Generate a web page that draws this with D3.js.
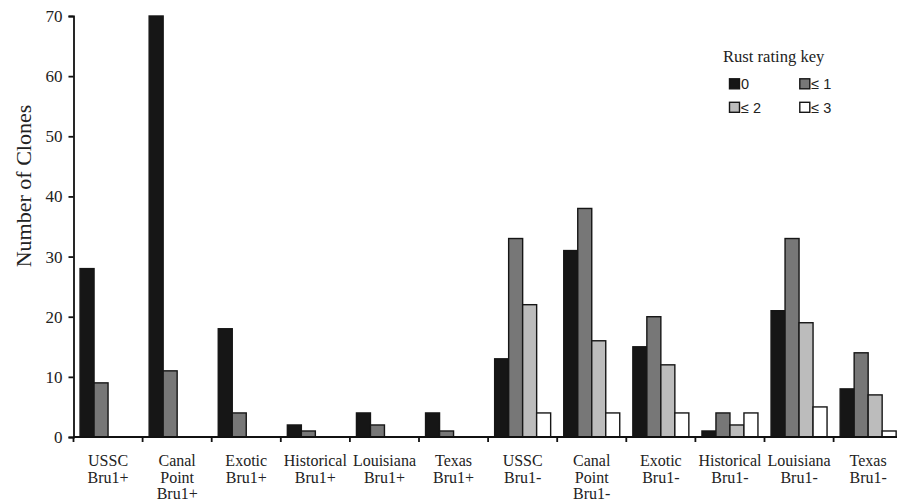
<!DOCTYPE html>
<html><head><meta charset="utf-8">
<script src="https://cdn.jsdelivr.net/npm/d3@7/dist/d3.min.js"></script>
<style>body{margin:0;background:#fff}svg{display:block}</style>
</head><body>
<svg id="c" width="897" height="502"></svg>
<script>
const categories = ["USSC Bru1+","Canal Point Bru1+","Exotic Bru1+","Historical Bru1+","Louisiana Bru1+","Texas Bru1+",
  "USSC Bru1-","Canal Point Bru1-","Exotic Bru1-","Historical Bru1-","Louisiana Bru1-","Texas Bru1-"];
const categoryLines = [["USSC","Bru1+"],["Canal","Point","Bru1+"],["Exotic","Bru1+"],["Historical","Bru1+"],["Louisiana","Bru1+"],["Texas","Bru1+"],
  ["USSC","Bru1-"],["Canal","Point","Bru1-"],["Exotic","Bru1-"],["Historical","Bru1-"],["Louisiana","Bru1-"],["Texas","Bru1-"]];
const seriesKeys = ["0","≤ 1","≤ 2","≤ 3"];
const rating0  = [28,70,18,2,4,4,13,31,15,1,21,8];
const rating1  = [9,11,4,1,2,1,33,38,20,4,33,14];
const rating2  = [0,0,0,0,0,0,22,16,12,2,19,7];
const rating3  = [0,0,0,0,0,0,4,4,4,4,5,1];
const yTicks = [0,10,20,30,40,50,60,70];
const seriesValues = [rating0, rating1, rating2, rating3];
const colors = ["#161616","#777777","#bcbcbc","#ffffff"];

const svg = d3.select("#c");
const x0 = 73.5, yBase = 437, yTop = 16, step = 69.1;
const x = d3.scaleBand().domain(categories).range([x0, x0 + step*categories.length]).paddingInner(0).paddingOuter(0);
const xs = d3.scaleBand().domain(seriesKeys).range([0, x.bandwidth()]).paddingInner(0).paddingOuter(0.468);
const y = d3.scaleLinear().domain([0,70]).range([yBase, yTop]);

// bars
const data = [];
categories.forEach((c,i)=>seriesKeys.forEach((k,j)=>data.push({c,k,j,v:seriesValues[j][i]})));
svg.append("g").selectAll("rect").data(data.filter(d=>d.v>0)).join("rect")
  .attr("x", d=>x(d.c)+xs(d.k))
  .attr("y", d=>y(d.v))
  .attr("width", xs.bandwidth())
  .attr("height", d=>yBase - y(d.v))
  .attr("fill", d=>colors[d.j])
  .attr("stroke", "#161616")
  .attr("stroke-width", 1.4);

// y axis
const yAxis = d3.axisLeft(y).tickValues(yTicks).tickSize(5).tickPadding(6).tickFormat(d3.format("d"));
const gy = svg.append("g").attr("transform", `translate(${x0},0)`).call(yAxis);
gy.select(".domain").attr("stroke","#111").attr("stroke-width",1.8);
gy.selectAll(".tick line").attr("stroke","#111").attr("stroke-width",1.8);
gy.selectAll(".tick text").attr("font-family","Liberation Serif, serif").attr("font-size",17).attr("fill","#222");

// x axis
const gx = svg.append("g").attr("transform", `translate(0,${yBase})`);
gx.append("line").attr("x1", x0).attr("x2", 897).attr("y1",0).attr("y2",0).attr("stroke","#111").attr("stroke-width",1.8);
categories.forEach((c,i)=>{
  gx.append("line").attr("x1", x(c)).attr("x2", x(c)).attr("y1",0).attr("y2",5).attr("stroke","#111").attr("stroke-width",1.8);
  const t = gx.append("text").attr("text-anchor","middle").attr("font-family","Liberation Serif, serif")
    .attr("font-size",16).attr("fill","#222");
  categoryLines[i].forEach((ln,k)=>{
    t.append("tspan").attr("x", x(c)+x.bandwidth()/2).attr("y", 28.7 + k*16.8).text(ln);
  });
});

// y label
svg.append("text").attr("transform","translate(31,186) rotate(-90)").attr("text-anchor","middle")
  .attr("font-family","Liberation Serif, serif").attr("font-size",22).attr("fill","#222").text("Number of Clones");

// legend
const lg = svg.append("g");
lg.append("text").attr("x",723).attr("y",62.3).attr("font-family","Liberation Serif, serif").attr("font-size",16.6).attr("fill","#222").text("Rust rating key");
const lpos = [[729.5,78.8],[799.8,78.8],[729.5,102.3],[799.8,102.3]];
seriesKeys.forEach((k,j)=>{
  lg.append("rect").attr("x",lpos[j][0]).attr("y",lpos[j][1]).attr("width",10).attr("height",10)
    .attr("fill",colors[j]).attr("stroke","#161616").attr("stroke-width",1.4);
  lg.append("text").attr("x",lpos[j][0]+11.5).attr("y",lpos[j][1]+10.5).attr("font-family","Liberation Sans, Arial, sans-serif")
    .attr("font-size",14.5).attr("fill","#222").text(k);
});
</script>
</body></html>
